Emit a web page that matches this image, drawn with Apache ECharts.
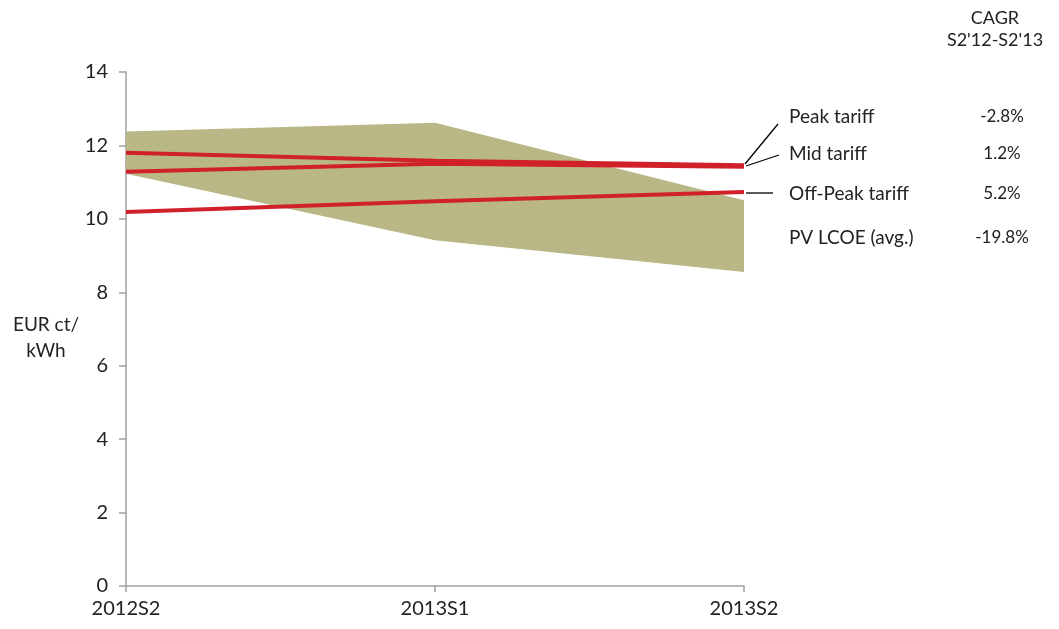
<!DOCTYPE html>
<html>
<head>
<meta charset="utf-8">
<script src="https://cdn.jsdelivr.net/npm/echarts@6/dist/echarts.min.js"></script>
<style>
  html, body { margin: 0; padding: 0; background: #fff; }
  #chart { width: 1059px; height: 629px; }
</style>
</head>
<body>
<div id="chart"></div>
<script>
// periods on the x axis
const periods = ['2012S2', '2013S1', '2013S2']

// tariff lines (EUR ct/kWh)
const peakTariff = [11.80, 11.58, 11.46]
const midTariff = [11.28, 11.50, 11.42]
const offPeakTariff = [10.19, 10.48, 10.73]

// PV LCOE range (low / high)
const lcoeLow = [11.23, 9.42, 8.55]
const lcoeHigh = [12.38, 12.62, 10.51]

// annotation table
const seriesNames = ['Peak tariff', 'Mid tariff', 'Off-Peak tariff', 'PV LCOE (avg.)']
const cagrValues = ['-2.8%', '1.2%', '5.2%', '-19.8%']

const FONT = 'Lato'
const RED = '#d0202a'
const BAND = '#bab786'

const chart = echarts.init(document.getElementById('chart'))

const lineSeries = (name, data) => ({
  name,
  type: 'line',
  data,
  symbol: 'none',
  lineStyle: { color: RED, width: 4 },
  z: 5
})

// label rows on the right side
const rowY = [117, 154, 194, 238]
const labelTexts = []
seriesNames.forEach((n, i) => {
  labelTexts.push({
    type: 'text', x: 789, y: rowY[i],
    style: { text: n, font: '19px ' + FONT, fill: '#222', verticalAlign: 'middle' }
  })
  labelTexts.push({
    type: 'text', x: 1002, y: rowY[i],
    style: { text: cagrValues[i], font: '17px ' + FONT, fill: '#222', align: 'center', verticalAlign: 'middle' }
  })
})

chart.setOption({
  animation: false,
  grid: { left: 126, right: 315, top: 72, bottom: 43 },
  xAxis: {
    type: 'category',
    data: periods,
    boundaryGap: false,
    axisLine: { lineStyle: { color: '#a0a0a0', width: 1.5 } },
    axisTick: { show: true, length: 6, alignWithLabel: true, lineStyle: { color: '#a0a0a0', width: 1.5 } },
    axisLabel: { color: '#222', fontSize: 20, fontFamily: FONT, margin: 13 }
  },
  yAxis: {
    type: 'value',
    min: 0,
    max: 14,
    interval: 2,
    splitLine: { show: false },
    axisLine: { show: true, lineStyle: { color: '#a0a0a0', width: 1.5 } },
    axisTick: { show: true, length: 7, lineStyle: { color: '#a0a0a0', width: 1.5 } },
    axisLabel: { color: '#222', fontSize: 20, fontFamily: FONT, margin: 18 }
  },
  series: [
    {
      name: 'lcoeLow',
      type: 'line',
      stack: 'band',
      data: lcoeLow,
      symbol: 'none',
      lineStyle: { opacity: 0 },
      z: 2
    },
    {
      name: 'PV LCOE (avg.)',
      type: 'line',
      stack: 'band',
      data: lcoeHigh.map((v, i) => +(v - lcoeLow[i]).toFixed(2)),
      symbol: 'none',
      lineStyle: { opacity: 0 },
      areaStyle: { color: BAND, opacity: 1 },
      z: 2
    },
    lineSeries('Peak tariff', peakTariff),
    lineSeries('Mid tariff', midTariff),
    lineSeries('Off-Peak tariff', offPeakTariff)
  ],
  graphic: [
    {
      type: 'text', x: 46, y: 338,
      style: { text: 'EUR ct/\nkWh', font: '19px ' + FONT, fill: '#222', align: 'center', verticalAlign: 'middle', lineHeight: 26 }
    },
    {
      type: 'text', x: 995, y: 29,
      style: { text: 'CAGR\nS2\'12-S2\'13', font: '18px ' + FONT, fill: '#222', align: 'center', verticalAlign: 'middle', lineHeight: 22 }
    },
    // leader lines from line ends to labels
    { type: 'line', shape: { x1: 745, y1: 164, x2: 778, y2: 124 }, style: { stroke: '#000', lineWidth: 1.3 } },
    { type: 'line', shape: { x1: 746, y1: 166, x2: 779, y2: 155 }, style: { stroke: '#000', lineWidth: 1.3 } },
    { type: 'line', shape: { x1: 746, y1: 193, x2: 773, y2: 193 }, style: { stroke: '#000', lineWidth: 1.3 } }
  ].concat(labelTexts)
})
</script>
</body>
</html>
